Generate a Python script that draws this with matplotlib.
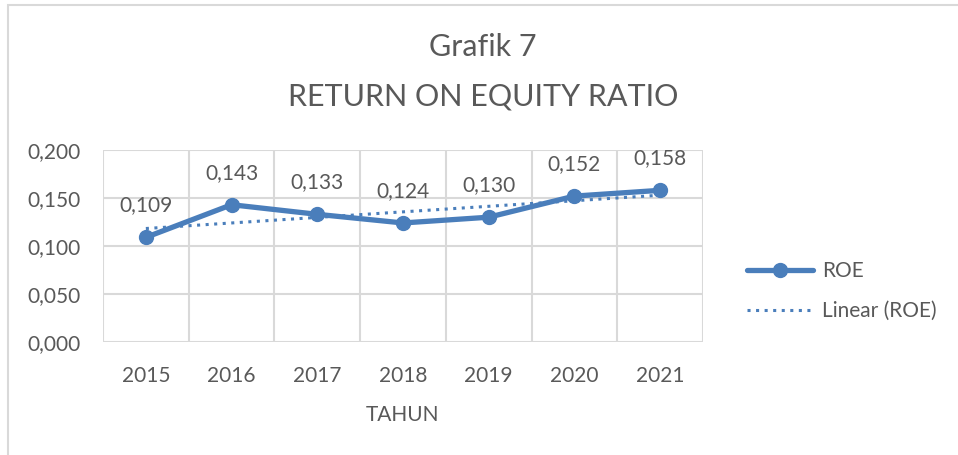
import numpy as np
import matplotlib
matplotlib.use("Agg")
import matplotlib.pyplot as plt
from matplotlib.patches import Rectangle

# data
years = ["2015", "2016", "2017", "2018", "2019", "2020", "2021"]
roe = [0.109, 0.143, 0.133, 0.124, 0.130, 0.152, 0.158]
y_ticks = [0.0, 0.05, 0.10, 0.15, 0.20]

BLUE = "#4a7ebb"
TXT = "#595959"
GRID = "#d9d9d9"
FS = 15

plt.rcParams['font.family'] = ['Lato', 'DejaVu Sans']

W, H = 958, 455
fig = plt.figure(figsize=(W / 100, H / 100), dpi=100)

# chart border (cropped at right and bottom)
fig.patches.append(Rectangle((8 / W, -0.1), 1.2, 1 - 5.5 / H + 0.1,
                             transform=fig.transFigure, fill=False,
                             edgecolor=GRID, linewidth=1.5))

ax = fig.add_axes([103 / W, 1 - 342 / H, 600 / W, 192 / H])
x = np.arange(len(years))

# linear trendline
k, b = np.polyfit(x, roe, 1)
ax.plot(x, k * x + b, color=BLUE, linestyle=(0, (1, 1.8)), linewidth=2.2,
        label="Linear (ROE)", zorder=3)
ax.plot(x, roe, color=BLUE, linewidth=3.8, marker="o", markersize=10,
        solid_capstyle="round", label="ROE", zorder=4)

for xi, v in zip(x, roe):
    ax.annotate(f"{v:.3f}".replace(".", ","), (xi, v), xytext=(0, 23),
                textcoords="offset points", ha="center", va="center",
                fontsize=FS, color=TXT)

ax.set_xlim(-0.5, len(years) - 0.5)
ax.set_ylim(0, 0.2)
ax.set_yticks(y_ticks)
ax.set_yticklabels([f"{t:.3f}".replace(".", ",") for t in y_ticks])
ax.set_xticks(x)
ax.set_xticklabels(years)
ax.set_xticks(np.arange(-0.5, len(years)), minor=True)
ax.grid(True, which="minor", axis="x", color=GRID, linewidth=1.5)
ax.grid(True, which="major", axis="y", color=GRID, linewidth=1.5)
ax.tick_params(axis="both", which="both", length=0, labelsize=FS,
               labelcolor=TXT)
ax.tick_params(axis="x", pad=17)
ax.tick_params(axis="y", pad=16)
for s in ax.spines.values():
    s.set_visible(False)
ax.set_axisbelow(True)
ax.set_xlabel("TAHUN", fontsize=FS, color=TXT, labelpad=14)

fig.text(483 / W, 1 - 47 / H, "Grafik 7", ha="center", va="center",
         fontsize=22, color=TXT)
fig.text(483 / W, 1 - 96 / H, "RETURN ON EQUITY RATIO", ha="center",
         va="center", fontsize=22, color=TXT)

h, l = ax.get_legend_handles_labels()
leg = fig.legend(h[::-1], l[::-1], loc="center left",
                 bbox_to_anchor=(728 / W, 1 - 291 / H), frameon=False,
                 fontsize=FS, handlelength=3.2, labelspacing=0.95,
                 handletextpad=0.4)
for t in leg.get_texts():
    t.set_color(TXT)

fig.savefig("out.png", dpi=100)
